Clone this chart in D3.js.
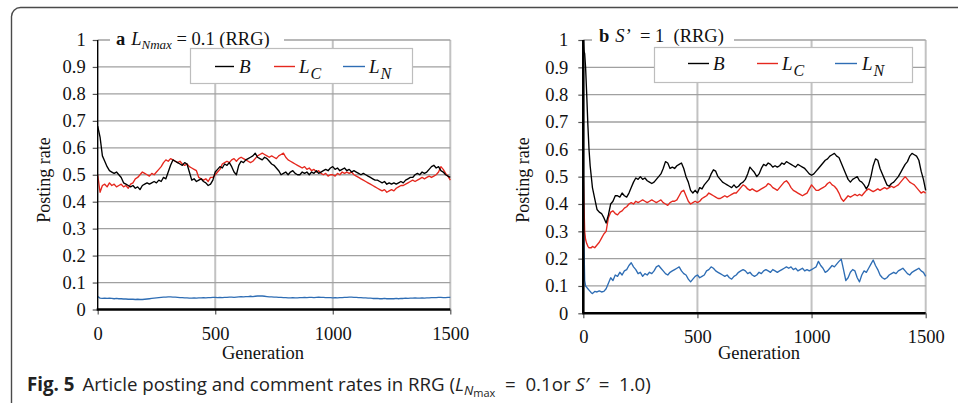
<!DOCTYPE html>
<html><head><meta charset="utf-8">
<script src="https://cdn.jsdelivr.net/npm/d3@7"></script>
<style>
html,body{margin:0;padding:0;background:#fff;}
svg{display:block;}
text,tspan{white-space:pre;}
</style></head>
<body>
<svg id="chart" width="958" height="403"></svg>
<script>
// ---------------- DATA ----------------
const generationsA = d3.range(0, 1501, 10);
const generationsB = [0, 3, 6, 10, 15, 20, 25, 30, 35].concat(d3.range(40, 1501, 10));
const xTicks = [0, 500, 1000, 1500];
const xTickLabels = ["0", "500", "1000", "1500"];
const yTicks = [0, 0.1, 0.2, 0.3, 0.4, 0.5, 0.6, 0.7, 0.8, 0.9, 1];
const yTickLabels = ["0", "0.1", "0.2", "0.3", "0.4", "0.5", "0.6", "0.7", "0.8", "0.9", "1"];
const seriesNames = ["B", "L_C", "L_N"];

const a_B = [
0.68,0.64,0.57,0.55,0.53,0.515,0.51,0.505,0.51,0.50,
0.49,0.47,0.465,0.46,0.455,0.46,0.45,0.455,0.445,0.46,
0.465,0.47,0.465,0.47,0.475,0.47,0.48,0.475,0.49,0.485,
0.51,0.535,0.555,0.55,0.545,0.54,0.535,0.545,0.54,0.51,
0.48,0.485,0.475,0.48,0.485,0.475,0.47,0.46,0.465,0.48,
0.51,0.52,0.53,0.525,0.54,0.535,0.545,0.53,0.51,0.50,
0.535,0.55,0.545,0.555,0.56,0.565,0.57,0.58,0.565,0.56,
0.555,0.565,0.56,0.55,0.54,0.535,0.525,0.515,0.50,0.505,
0.51,0.50,0.51,0.515,0.505,0.50,0.50,0.51,0.505,0.51,
0.50,0.51,0.505,0.515,0.505,0.51,0.515,0.52,0.515,0.525,
0.53,0.52,0.525,0.515,0.52,0.525,0.515,0.52,0.51,0.515,
0.51,0.505,0.50,0.505,0.50,0.495,0.49,0.485,0.48,0.48,
0.475,0.47,0.475,0.465,0.47,0.465,0.47,0.465,0.47,0.475,
0.47,0.48,0.485,0.49,0.49,0.50,0.505,0.50,0.51,0.505,
0.51,0.52,0.53,0.535,0.525,0.53,0.515,0.51,0.50,0.495,
0.49];
const a_LC = [
0.50,0.435,0.46,0.465,0.455,0.47,0.46,0.465,0.455,0.46,
0.465,0.455,0.46,0.45,0.465,0.47,0.485,0.49,0.50,0.51,
0.505,0.50,0.495,0.505,0.50,0.51,0.52,0.53,0.545,0.555,
0.55,0.56,0.555,0.55,0.545,0.55,0.54,0.535,0.54,0.53,
0.525,0.52,0.515,0.49,0.485,0.48,0.485,0.475,0.49,0.49,
0.50,0.51,0.52,0.54,0.545,0.55,0.545,0.555,0.56,0.55,
0.56,0.565,0.56,0.555,0.55,0.545,0.55,0.56,0.57,0.575,
0.58,0.575,0.57,0.565,0.57,0.565,0.56,0.57,0.575,0.58,
0.565,0.555,0.55,0.545,0.54,0.535,0.53,0.525,0.53,0.52,
0.525,0.515,0.52,0.51,0.515,0.505,0.50,0.505,0.495,0.50,
0.50,0.495,0.505,0.50,0.51,0.505,0.51,0.505,0.51,0.50,
0.495,0.49,0.485,0.48,0.475,0.47,0.465,0.46,0.455,0.45,
0.445,0.44,0.445,0.435,0.44,0.445,0.44,0.45,0.455,0.46,
0.46,0.465,0.47,0.475,0.48,0.475,0.48,0.485,0.49,0.485,
0.49,0.495,0.49,0.495,0.50,0.51,0.53,0.52,0.505,0.495,
0.48];
const a_LN = [
0.048,0.042,0.041,0.042,0.041,0.042,0.041,0.040,0.041,0.040,
0.040,0.039,0.039,0.038,0.038,0.038,0.037,0.038,0.037,0.037,
0.038,0.039,0.040,0.041,0.042,0.043,0.044,0.045,0.046,0.046,
0.047,0.047,0.046,0.046,0.045,0.044,0.044,0.043,0.043,0.042,
0.042,0.043,0.042,0.043,0.043,0.044,0.043,0.044,0.044,0.045,
0.045,0.044,0.045,0.044,0.045,0.045,0.046,0.046,0.045,0.046,
0.047,0.048,0.047,0.048,0.048,0.049,0.048,0.049,0.050,0.050,
0.050,0.049,0.048,0.047,0.047,0.046,0.046,0.045,0.045,0.044,
0.044,0.043,0.043,0.044,0.043,0.043,0.044,0.044,0.045,0.044,
0.045,0.045,0.044,0.045,0.046,0.045,0.045,0.044,0.044,0.044,
0.043,0.044,0.043,0.044,0.044,0.045,0.045,0.046,0.046,0.045,
0.045,0.044,0.044,0.043,0.043,0.042,0.042,0.041,0.041,0.041,
0.040,0.040,0.041,0.040,0.040,0.040,0.040,0.041,0.040,0.041,
0.041,0.042,0.041,0.042,0.042,0.043,0.042,0.042,0.043,0.042,
0.043,0.043,0.044,0.044,0.044,0.045,0.045,0.044,0.044,0.045,
0.045];

const b_B = [
1.0,0.96,0.95,0.90,0.80,0.69,0.60,0.54,0.50,
0.46,0.42,0.38,0.37,0.365,0.35,0.33,0.36,0.40,0.41,
0.43,0.43,0.425,0.44,0.43,0.425,0.44,0.46,0.48,0.495,
0.49,0.50,0.49,0.495,0.485,0.48,0.475,0.48,0.49,0.50,
0.51,0.53,0.555,0.55,0.53,0.535,0.53,0.54,0.545,0.55,
0.53,0.50,0.48,0.45,0.44,0.45,0.44,0.46,0.455,0.47,
0.48,0.49,0.51,0.525,0.52,0.50,0.49,0.48,0.475,0.47,
0.465,0.46,0.47,0.46,0.465,0.475,0.48,0.49,0.51,0.535,
0.525,0.515,0.50,0.51,0.53,0.545,0.54,0.55,0.545,0.535,
0.54,0.535,0.54,0.55,0.545,0.555,0.55,0.545,0.54,0.535,
0.545,0.54,0.535,0.53,0.52,0.51,0.505,0.51,0.52,0.53,
0.54,0.55,0.56,0.565,0.575,0.58,0.585,0.575,0.57,0.55,
0.53,0.51,0.49,0.48,0.49,0.495,0.50,0.485,0.48,0.47,
0.455,0.47,0.50,0.54,0.565,0.56,0.53,0.51,0.49,0.47,
0.465,0.475,0.48,0.49,0.50,0.515,0.53,0.545,0.555,0.575,
0.585,0.58,0.575,0.56,0.52,0.49,0.45];
const b_LC = [
0.51,0.40,0.30,0.27,0.255,0.245,0.24,0.24,0.24,
0.245,0.24,0.25,0.26,0.275,0.29,0.30,0.35,0.37,0.375,
0.365,0.36,0.37,0.375,0.385,0.39,0.40,0.405,0.40,0.41,
0.405,0.41,0.415,0.41,0.405,0.41,0.415,0.41,0.405,0.41,
0.415,0.405,0.40,0.395,0.405,0.41,0.41,0.415,0.43,0.445,
0.45,0.43,0.41,0.40,0.405,0.41,0.405,0.41,0.42,0.425,
0.43,0.44,0.435,0.43,0.425,0.42,0.42,0.425,0.43,0.425,
0.43,0.435,0.44,0.44,0.45,0.46,0.47,0.465,0.455,0.45,
0.455,0.45,0.445,0.45,0.455,0.46,0.465,0.475,0.47,0.46,
0.455,0.45,0.46,0.47,0.48,0.485,0.475,0.46,0.45,0.445,
0.44,0.435,0.43,0.435,0.44,0.455,0.47,0.46,0.45,0.45,
0.455,0.46,0.465,0.475,0.48,0.47,0.465,0.455,0.44,0.42,
0.41,0.42,0.43,0.425,0.43,0.435,0.43,0.435,0.43,0.44,
0.45,0.455,0.45,0.445,0.45,0.455,0.45,0.455,0.46,0.455,
0.46,0.465,0.46,0.465,0.47,0.48,0.49,0.50,0.49,0.48,
0.475,0.47,0.46,0.45,0.44,0.445,0.44];
const b_LN = [
0.50,0.25,0.12,0.10,0.095,0.09,0.085,0.08,0.075,
0.072,0.08,0.078,0.082,0.078,0.08,0.09,0.11,0.13,0.12,
0.14,0.135,0.15,0.14,0.155,0.16,0.175,0.185,0.17,0.16,
0.145,0.15,0.135,0.145,0.14,0.15,0.145,0.155,0.17,0.175,
0.165,0.155,0.145,0.14,0.15,0.155,0.16,0.165,0.17,0.155,
0.145,0.14,0.125,0.115,0.125,0.135,0.14,0.13,0.135,0.14,
0.155,0.16,0.17,0.165,0.155,0.15,0.145,0.14,0.135,0.14,
0.13,0.125,0.135,0.14,0.15,0.155,0.16,0.155,0.145,0.15,
0.14,0.135,0.14,0.15,0.145,0.155,0.16,0.155,0.15,0.16,
0.155,0.15,0.155,0.16,0.165,0.17,0.165,0.17,0.16,0.165,
0.155,0.16,0.165,0.155,0.16,0.155,0.16,0.165,0.17,0.19,
0.175,0.165,0.15,0.155,0.165,0.175,0.17,0.18,0.19,0.198,
0.16,0.12,0.13,0.15,0.16,0.155,0.13,0.115,0.14,0.155,
0.15,0.165,0.18,0.195,0.175,0.16,0.14,0.13,0.125,0.13,
0.14,0.145,0.15,0.145,0.155,0.16,0.165,0.155,0.145,0.14,
0.15,0.155,0.16,0.165,0.155,0.15,0.135];

// ---------------- DRAW ----------------
const COLORS = {B: "#000000", L_C: "#e5281e", L_N: "#2e6db4"};
const SERIF = "'Liberation Serif','Times New Roman',serif";
const svg = d3.select("#chart");
svg.append("rect").attr("width", 958).attr("height", 403).attr("fill", "#fff");

// outer frame
svg.append("rect").attr("x", 11.5).attr("y", 7.5).attr("width", 980).attr("height", 405)
  .attr("rx", 9).attr("fill", "none").attr("stroke", "#4a4a4a").attr("stroke-width", 1.4);

function drawPanel(cfg) {
  const x = d3.scaleLinear().domain([0, 1500]).range([cfg.x0, cfg.x1]);
  const y = d3.scaleLinear().domain([0, 1]).range([cfg.y0, cfg.y1]);
  const g = svg.append("g");

  // vertical grid
  g.selectAll(".vg").data(xTicks.filter(d => d > 0)).join("line")
    .attr("x1", d => x(d)).attr("x2", d => x(d)).attr("y1", y(0)).attr("y2", y(1))
    .attr("stroke", "#c2c2c2").attr("stroke-width", 2);
  // horizontal grid
  g.selectAll(".hg").data(yTicks.filter(d => d > 0)).join("line")
    .attr("x1", x(0)).attr("x2", x(1500)).attr("y1", d => y(d)).attr("y2", d => y(d))
    .attr("stroke", "#a0a0a0").attr("stroke-width", 1.3);

  // y axis
  const ya = d3.axisLeft(y).tickValues(yTicks).tickFormat((d, i) => yTickLabels[i])
    .tickSize(5).tickPadding(cfg.yPad);
  const yg = g.append("g").attr("transform", `translate(${x(0)},0)`).call(ya);
  yg.select(".domain").remove();
  yg.selectAll(".tick line").attr("stroke", "#555").attr("stroke-width", 1.2);
  yg.selectAll(".tick text").attr("font-family", SERIF).attr("font-size", 18.5).attr("fill", "#111");

  // x axis
  const xa = d3.axisBottom(x).tickValues(xTicks).tickFormat((d, i) => xTickLabels[i])
    .tickSize(5).tickPadding(12);
  const xg = g.append("g").attr("transform", `translate(0,${y(0)})`).call(xa);
  xg.select(".domain").remove();
  xg.selectAll(".tick line").attr("stroke", "#555").attr("stroke-width", 1.2);
  xg.selectAll(".tick text").attr("font-family", SERIF).attr("font-size", 18.5).attr("fill", "#111");

  // series
  const line = d3.line().x(d => x(d[0])).y(d => y(d[1]));
  const series = [["L_N", cfg.LN], ["L_C", cfg.LC], ["B", cfg.B]];
  series.forEach(([name, vals]) => {
    const pts = cfg.gens.map((gen, i) => [gen, vals[i]]);
    g.append("path").datum(pts).attr("d", line).attr("fill", "none")
      .attr("stroke", COLORS[name]).attr("stroke-width", 1.35).attr("stroke-linejoin", "round");
  });

  // axis lines
  g.append("line").attr("x1", x(0)).attr("x2", x(0)).attr("y1", y(0)).attr("y2", y(1))
    .attr("stroke", "#000").attr("stroke-width", cfg.leftW);
  g.append("line").attr("x1", x(0) - 1).attr("x2", x(1500)).attr("y1", y(0)).attr("y2", y(0))
    .attr("stroke", "#000").attr("stroke-width", 2.4);

  // axis titles
  g.append("text").attr("transform", `translate(${cfg.yTitleX},${cfg.yTitleY}) rotate(-90)`)
    .attr("text-anchor", "middle").attr("font-family", SERIF).attr("font-size", 18).attr("fill", "#111")
    .text("Posting rate");
  g.append("text").attr("x", cfg.xTitleX).attr("y", cfg.xTitleY)
    .attr("text-anchor", "middle").attr("font-family", SERIF).attr("font-size", 18.5).attr("fill", "#111")
    .text("Generation");

  // title with white background
  g.append("rect").attr("x", cfg.titleBox[0]).attr("y", cfg.titleBox[1])
    .attr("width", cfg.titleBox[2]).attr("height", cfg.titleBox[3]).attr("fill", "#fff");
  cfg.title(g);

  // legend
  const lb = cfg.legendBox;
  g.append("rect").attr("x", lb[0] + 0.5).attr("y", lb[1] + 0.5).attr("width", lb[2]).attr("height", lb[3])
    .attr("fill", "#fff").attr("stroke", "#bdbdbd").attr("stroke-width", 1.2);
  seriesNames.forEach((name, i) => {
    const it = cfg.legendItems[i];
    g.append("line").attr("x1", it[0]).attr("x2", it[1]).attr("y1", cfg.legendY).attr("y2", cfg.legendY)
      .attr("stroke", COLORS[name]).attr("stroke-width", 1.4);
    const t = g.append("text").attr("x", it[2]).attr("y", cfg.legendY + 6)
      .attr("font-family", SERIF).attr("font-size", 19).attr("font-style", "italic").attr("fill", "#111");
    if (name === "B") t.text("B");
    else {
      t.append("tspan").text("L");
      t.append("tspan").attr("dy", 6).attr("dx", 1).attr("font-size", 16).text(name.slice(2));
    }
  });
}

drawPanel({
  x0: 97.7, x1: 450.3, y0: 309.5, y1: 40, gens: generationsA,
  B: a_B, LC: a_LC, LN: a_LN, leftW: 1.4, yPad: 7,
  yTitleX: 50, yTitleY: 180, xTitleX: 263, xTitleY: 359,
  titleBox: [110, 27, 174, 24],
  title: g => {
    const t = g.append("text").attr("x", 116).attr("y", 45)
      .attr("font-family", SERIF).attr("font-size", 18.5).attr("fill", "#111");
    t.append("tspan").attr("font-weight", "bold").text("a");
    t.append("tspan").attr("dx", 6).attr("font-style", "italic").text("L");
    t.append("tspan").attr("dy", 4).attr("font-size", 13).attr("font-style", "italic").text("Nmax");
    t.append("tspan").attr("dy", -4).text(" = 0.1 (RRG)");
  },
  legendBox: [190, 48, 222, 35], legendY: 66.5,
  legendItems: [[215, 234, 239], [274, 295, 299], [343, 365, 369]]
});

drawPanel({
  x0: 583.3, x1: 925.7, y0: 313.3, y1: 40, gens: generationsB,
  B: b_B, LC: b_LC, LN: b_LN, leftW: 2.6, yPad: 10,
  yTitleX: 529, yTitleY: 180, xTitleX: 759, xTitleY: 359,
  titleBox: [592, 27, 142, 24],
  title: g => {
    const t = g.append("text").attr("x", 599).attr("y", 42)
      .attr("font-family", SERIF).attr("font-size", 18.5).attr("fill", "#111");
    t.append("tspan").attr("font-weight", "bold").text("b");
    t.append("tspan").attr("dx", 6).attr("font-style", "italic").text("S\u2019");
    t.append("tspan").text("  = 1  (RRG)");
  },
  legendBox: [654, 47, 258, 35], legendY: 63.5,
  legendItems: [[688, 709, 713], [757, 778, 782], [835, 857, 862]]
});

// caption
const cap = svg.append("text").attr("x", 27).attr("y", 391)
  .attr("font-family", "'Open Sans','Noto Sans',sans-serif").attr("font-size", 17).attr("fill", "#222");
cap.append("tspan").attr("font-weight", "bold").text("Fig. 5");
cap.append("tspan").attr("dx", 8).text("Article posting and comment rates in RRG (");
cap.append("tspan").attr("font-style", "italic").text("L");
cap.append("tspan").attr("font-style", "italic").attr("font-size", 12).attr("dy", 4).text("N");
cap.append("tspan").attr("font-size", 10).attr("dy", 2).text("max");
cap.append("tspan").attr("dy", -6).text("  =  0.1or ");
cap.append("tspan").attr("font-style", "italic").text("S\u2032");
cap.append("tspan").text("  =  1.0)");
// fit caption width to reference
const w = cap.node().getComputedTextLength();
const target = 643 - 27;
const k = target / w;
cap.attr("font-size", 17 * k);
cap.selectAll("tspan").each(function() {
  const s = d3.select(this);
  const fs = s.attr("font-size");
  if (fs) s.attr("font-size", +fs * k);
});
</script>
</body></html>
